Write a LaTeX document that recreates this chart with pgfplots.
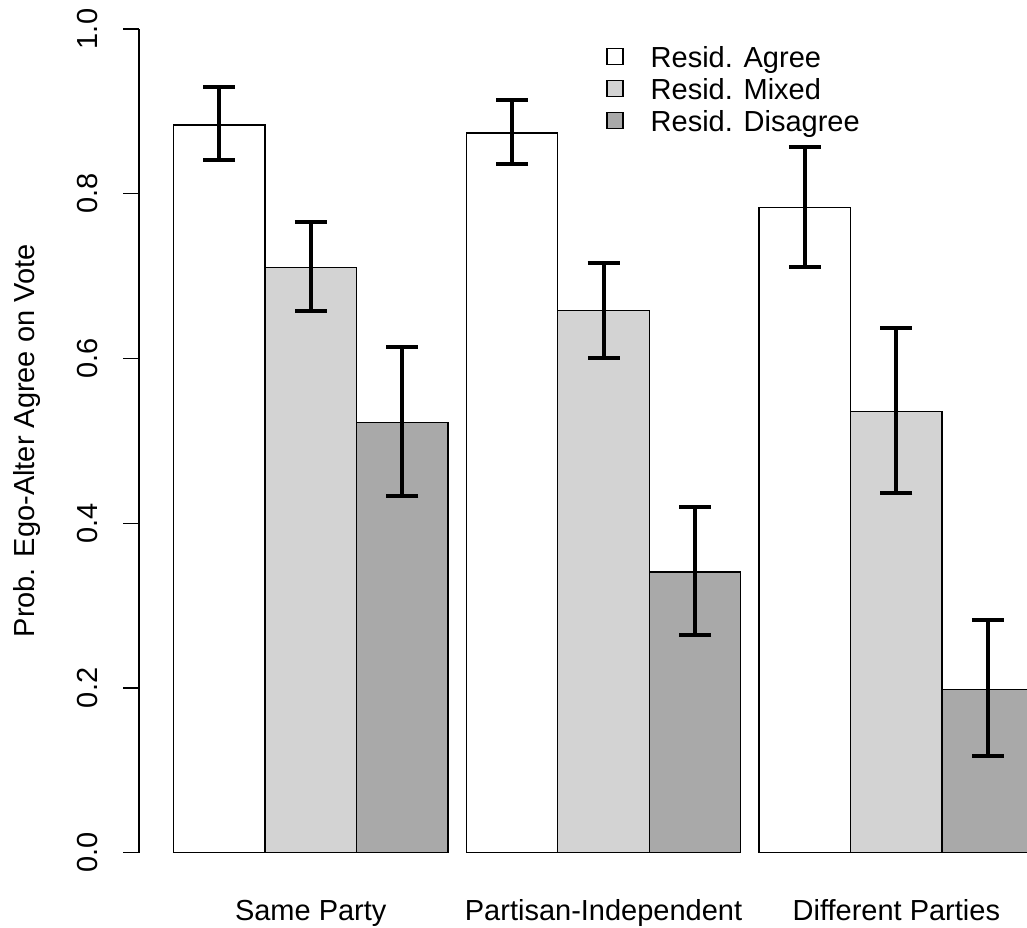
\documentclass[border=0pt]{standalone}
\usepackage{fontspec}
\setmainfont{Liberation Sans}
\usepackage{pgfplots}
\pgfplotsset{compat=1.18}
\definecolor{mixedgray}{RGB}{211,211,211}
\definecolor{disgray}{RGB}{169,169,169}
\newcommand\ff{\fontsize{29}{34}\selectfont}
\pgfplotsset{
  lgd/.style={legend image code/.code={\draw[#1,line width=1.5pt] (0pt,-8pt) rectangle (16pt,8pt);}},
  ebars/.style={
    error bars/y dir=both, error bars/y explicit,
    error bars/error bar style={line width=4pt, black},
    error bars/error mark options={rotate=90, mark size=16pt, line width=4pt, black}},
}
\begin{document}
\begin{tikzpicture}[font=\ff]
\begin{axis}[
  scale only axis, width=888pt, height=823.7pt,
  xmin=-0.3770, xmax=9.3279, ymin=0, ymax=1,
  clip=false,
  axis y line*=left, axis x line*=bottom,
  x axis line style={draw=none},
  y axis line style={line width=1.3pt, black},
  tick align=outside, major tick length=16pt,
  ytick={0,0.2,0.4,0.6,0.8,1},
  ytick style={line width=1.3pt, black},
  yticklabel style={rotate=90, anchor=south, inner sep=0pt, yshift=25pt},
  /pgf/number format/fixed, /pgf/number format/fixed zerofill,
  /pgf/number format/precision=1, /pgf/number format/assume math mode=true,
  xtick={1.5,4.7,7.9},
  xticklabels={Same Party, Partisan-Independent, Different Parties},
  xtick style={draw=none},
  xticklabel style={anchor=base, inner sep=0pt, yshift=-52.3pt},
  ylabel={Prob. Ego-Alter Agree on Vote},
  ylabel style={at={(axis description cs:-0.1182,0.5)}, anchor=base, inner sep=0pt},
  legend style={draw=none, fill=none, at={(axis cs:4.727,0.983)}, anchor=north west,
    inner sep=0pt, row sep=5pt, font=\ff,
    nodes={inner sep=0pt, text height=24pt, text depth=3pt},
    /tikz/every odd column/.append style={column sep=27pt}},
  legend cell align=left,
]
\addplot[ybar, bar width=1, bar shift=0pt, fill=white, draw=black, line width=1.3pt, lgd, ebars]
  coordinates {
  (0.5,0.8834) += (0,0.0458) -= (0,0.0424)
  (3.7,0.8739) += (0,0.0399) -= (0,0.0377)
  (6.9,0.7833) += (0,0.0737) -= (0,0.0717)
  };
\addlegendentry{Resid. Agree}
\addplot[ybar, bar width=1, bar shift=0pt, fill=mixedgray, draw=black, line width=1.3pt, lgd, ebars]
  coordinates {
  (1.5,0.7102) += (0,0.0559) -= (0,0.0526)
  (4.7,0.6584) += (0,0.0573) -= (0,0.0577)
  (7.9,0.5360) += (0,0.1010) -= (0,0.0991)
  };
\addlegendentry{Resid. Mixed}
\addplot[ybar, bar width=1, bar shift=0pt, fill=disgray, draw=black, line width=1.3pt, lgd, ebars]
  coordinates {
  (2.5,0.5225) += (0,0.0918) -= (0,0.0895)
  (5.7,0.3407) += (0,0.0789) -= (0,0.0759)
  (8.9,0.1984) += (0,0.0841) -= (0,0.0806)
  };
\addlegendentry{Resid. Disagree}
\coordinate (BL) at (axis cs:-1.8962,-0.09142);
\coordinate (TR) at (axis cs:9.3279,1.03521);
\end{axis}
\pgfresetboundingbox
\useasboundingbox (BL) rectangle (TR);
\end{tikzpicture}
\end{document}
